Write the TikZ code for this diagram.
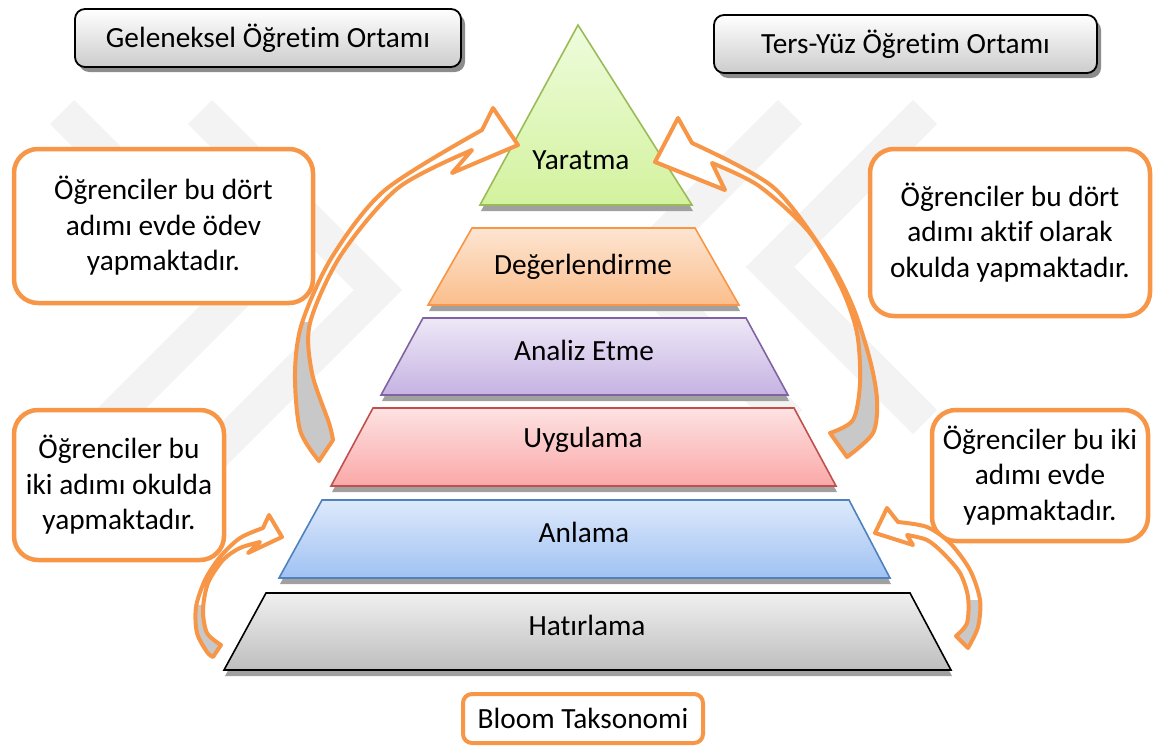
\documentclass[tikz,border=0pt]{standalone}
\usepackage{fontspec}
\setmainfont{Carlito}[Ligatures=NoCommon]
\usetikzlibrary{shadows}
\definecolor{orng}{HTML}{F79646}
\definecolor{wm}{HTML}{F3F3F3}
\definecolor{shd}{HTML}{A0A0A0}
\definecolor{backface}{HTML}{C8C8C8}
\definecolor{grnB}{HTML}{9BBB59}\definecolor{grnT}{HTML}{EEFCDD}\definecolor{grnL}{HTML}{D3F29D}
\definecolor{orB}{HTML}{F79646}\definecolor{orT}{HTML}{FDE5D2}\definecolor{orL}{HTML}{FBBE8C}
\definecolor{puB}{HTML}{8064A2}\definecolor{puT}{HTML}{EEE8F7}\definecolor{puL}{HTML}{C5B3E2}
\definecolor{reB}{HTML}{C0504D}\definecolor{reT}{HTML}{FDE2E2}\definecolor{reL}{HTML}{FBA8A8}
\definecolor{blB}{HTML}{4F81BD}\definecolor{blT}{HTML}{DDE9FB}\definecolor{blL}{HTML}{A0C2F3}
\definecolor{grT}{HTML}{F0F0F0}\definecolor{grL}{HTML}{BEBEBE}
\tikzset{
  every node/.style={font=\fontsize{29.3}{35.5}\selectfont, inner sep=0pt},
  topbox/.style={draw=black, line width=1.8pt, rounded corners=10pt, top color=white, bottom color=black!20,
     drop shadow={shadow xshift=4pt, shadow yshift=-5pt, fill=black!45, opacity=1}},
  notebox/.style={draw=orng, line width=4.5pt, rounded corners=24pt, fill=white, align=center},
  layer/.style 2 args={draw=#1, line width=1.6pt, top color=#2T, bottom color=#2L},
  layershadow/.style={fill=shd},
  bandfill/.style={fill=white},
  bandline/.style={draw=orng, line width=4pt, line join=round},
  wmark/.style={draw=wm, line width=34pt, line join=miter},
}
\def\arrowA{(319,461) -- plot[smooth] coordinates {(319,461) (300,430) (295,373) (302,323) (332,257) (385,190) (482,130)} -- (493,108) -- (518,145) -- (452,173) -- (472,150) -- plot[smooth] coordinates {(472,150) (398,188) (341,255) (310,323) (312,373) (329,423) (333,440)} -- cycle}
\def\arrowB{(847,457) -- plot[smooth] coordinates {(847,457) (873,433) (877,400) (870,360) (853,307) (827,257) (773,187) (692,143)} -- (678,118) -- (655,162) -- (725,190) -- (712,163) -- plot[smooth] coordinates {(712,163) (759,186) (809,232) (841,287) (857,333) (860,383) (853,420) (830,433)} -- cycle}
\def\arrowC{(213,657) -- plot[smooth] coordinates {(213,657) (207,652) (197,633) (196,607) (205,580) (220,557) (240,538) (263,528)} -- (269,515) -- (282,537) -- (248,553) -- (260,542) -- plot[smooth] coordinates {(260,542) (240,548) (223,560) (208,583) (203,610) (207,633) (221,645)} -- cycle}
\def\arrowD{(968,648) -- plot[smooth] coordinates {(968,648) (978,627) (980,600) (970,570) (950,543) (927,527) (898,522)} -- (887,508) -- (875,533) -- (913,545) -- (907,535) -- plot[smooth] coordinates {(907,535) (927,540) (943,553) (960,573) (968,597) (967,623) (956,636)} -- cycle}
\begin{document}
\begin{tikzpicture}[x=1pt,y=-1pt]
\useasboundingbox (0,0) rectangle (1154,747);
% faint watermark
\draw[wmark] (62,112) -- (240,290) -- (62,468);
\draw[wmark] (200,112) -- (378,290) -- (200,468);
\draw[wmark] (925,112) -- (770,267) -- (925,422);
\draw[wmark] (790,112) -- (635,267) -- (790,422);
% title boxes
\node[topbox, minimum width=386pt, minimum height=58pt] (trad) at (268,38) {Geleneksel Öğretim Ortamı};
\node[topbox, minimum width=383pt, minimum height=58pt] (flip) at (905.5,44) {Ters-Yüz Öğretim Ortamı};
% pyramid shadows
\fill[layershadow, shift={(1,6)}] (578,25) -- (692,205) -- (480,205) -- cycle;
\fill[layershadow, shift={(1,6)}] (472,228) -- (695,228) -- (739,305) -- (428,305) -- cycle;
\fill[layershadow, shift={(1,6)}] (423,318) -- (746,318) -- (788,395) -- (381,395) -- cycle;
\fill[layershadow, shift={(1,6)}] (373,408) -- (794,408) -- (836,486) -- (331,486) -- cycle;
\fill[layershadow, shift={(1,6)}] (322,500) -- (849,500) -- (890,578) -- (279,578) -- cycle;
\fill[layershadow, shift={(1,6)}] (266,593) -- (910,593) -- (951,670) -- (224,670) -- cycle;
% pyramid layers
\path[layer={grnB}{grn}] (578,25) -- (692,205) -- (480,205) -- cycle;
\path[layer={orB}{or}] (472,228) -- (695,228) -- (739,305) -- (428,305) -- cycle;
\path[layer={puB}{pu}] (423,318) -- (746,318) -- (788,395) -- (381,395) -- cycle;
\path[layer={reB}{re}] (373,408) -- (794,408) -- (836,486) -- (331,486) -- cycle;
\path[layer={blB}{bl}] (322,500) -- (849,500) -- (890,578) -- (279,578) -- cycle;
\path[layer={black}{gr}] (266,593) -- (910,593) -- (951,670) -- (224,670) -- cycle;
\node (yar) at (581,160) {Yaratma};
\node (deg) at (583,267) {Değerlendirme};
\node (ana) at (584,350) {Analiz Etme};
\node (uyg) at (583,440) {Uygulama};
\node (anl) at (584,532) {Anlama};
\node (hat) at (587,625) {Hatırlama};
% note boxes
\node[notebox, minimum width=299pt, minimum height=154pt] (n1) at (163.5,226) {Öğrenciler bu dört\\adımı evde ödev\\yapmaktadır.};
\node[notebox, minimum width=280pt, minimum height=167pt] (n2) at (1010,232.5) {Öğrenciler bu dört\\adımı aktif olarak\\okulda yapmaktadır.};
\node[notebox, minimum width=210pt, minimum height=150pt] (n3) at (119,485) {Öğrenciler bu\\iki adımı okulda\\yapmaktadır.};
\node[notebox, minimum width=216pt, minimum height=131pt] (n4) at (1040,475.5) {Öğrenciler bu iki\\adımı evde\\yapmaktadır.};
\node[notebox, line width=4pt, rounded corners=9pt, minimum width=240pt, minimum height=49pt] (bloom) at (583,718.5) {Bloom Taksonomi};
% curved block arrows
\fill[bandfill] \arrowA;
\begin{scope}\clip \arrowA; \fill[backface] (250,322) rectangle (360,470);\end{scope}
\draw[bandline] \arrowA;
\fill[bandfill] \arrowB;
\begin{scope}\clip \arrowB; \fill[backface] (800,315) rectangle (900,470);\end{scope}
\draw[bandline] \arrowB;
\fill[bandfill] \arrowC;
\begin{scope}\clip \arrowC; \fill[backface] (180,605) rectangle (240,665);\end{scope}
\draw[bandline] \arrowC;
\fill[bandfill] \arrowD;
\begin{scope}\clip \arrowD; \fill[backface] (940,600) rectangle (1000,665);\end{scope}
\draw[bandline] \arrowD;
\end{tikzpicture}
\end{document}
